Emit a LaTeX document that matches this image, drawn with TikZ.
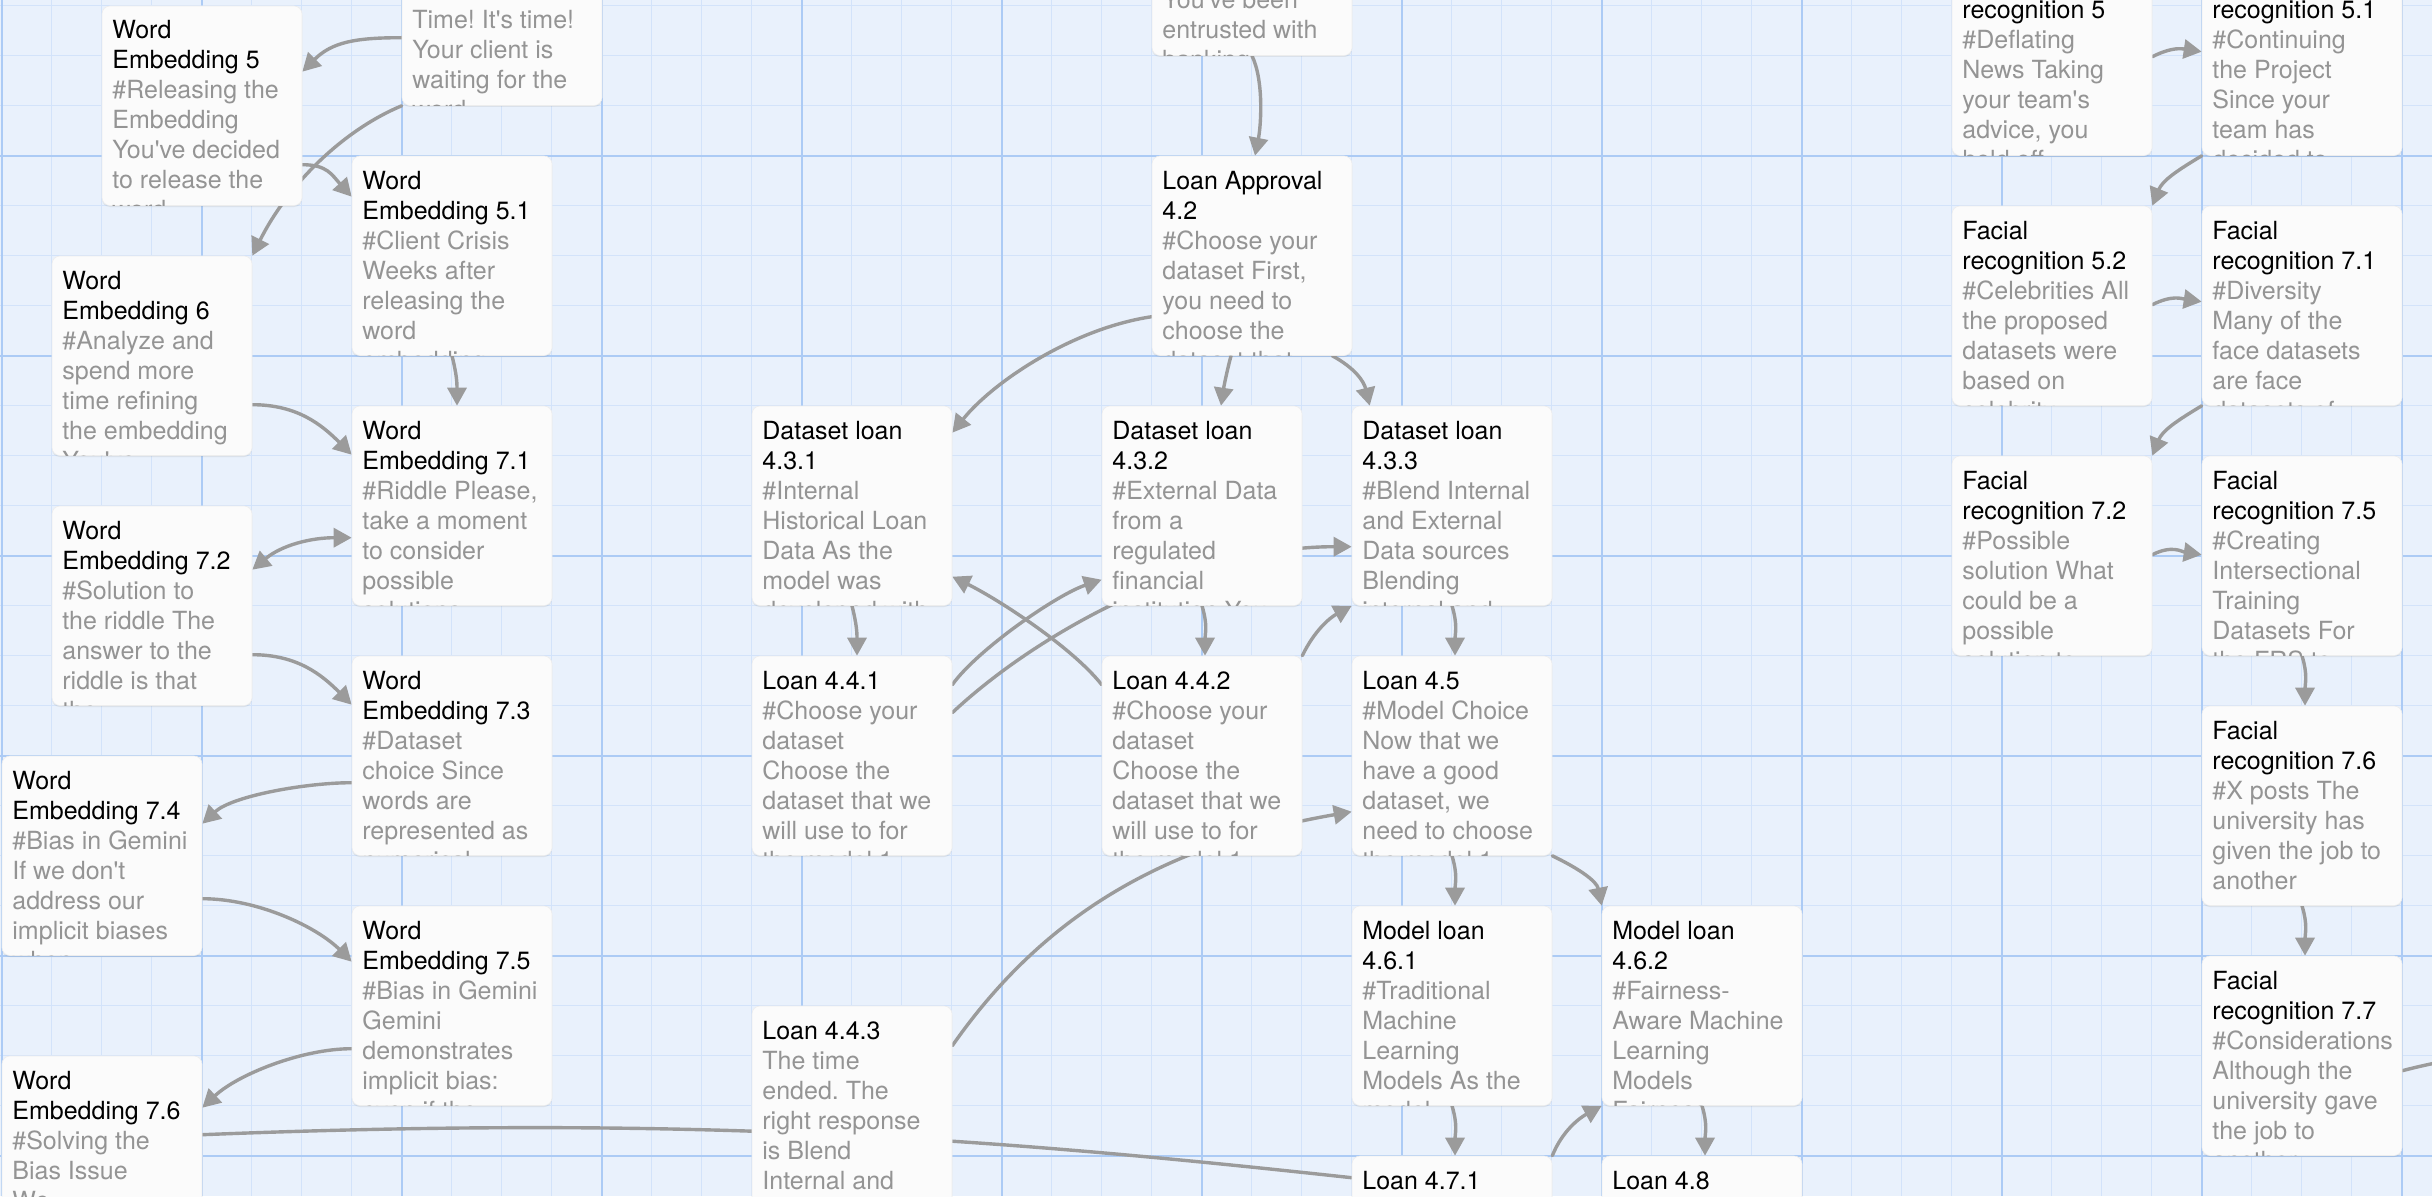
\documentclass[tikz,border=0pt]{standalone}
\usepackage{fontspec}
\newfontfamily\cardfont{TeX Gyre Heros}
\usetikzlibrary{arrows.meta,calc,shadows}
\frenchspacing

\definecolor{canvasbg}{RGB}{233,241,252}
\definecolor{gridminorcol}{RGB}{211,227,250}
\definecolor{gridmajorcol}{RGB}{172,203,245}
\definecolor{cardfill}{RGB}{251,251,251}
\definecolor{titlecol}{RGB}{0,0,0}
\definecolor{bodycol}{RGB}{148,148,148}
\definecolor{linkcol}{RGB}{155,155,155}

\pgfdeclarelayer{grid}
\pgfdeclarelayer{links}
\pgfsetlayers{grid,links,main}

\tikzset{
  cardbox/.style={rectangle, rounded corners=8pt, fill=cardfill, draw=black!7,
    line width=0.6pt, minimum width=200pt, minimum height=199.5pt, inner sep=0pt,
    drop shadow={shadow xshift=0pt, shadow yshift=-1.5pt, opacity=0.14}},
  cardtext/.style={inner sep=0pt, font=\cardfont\fontsize{25}{30}\selectfont},
  link/.style={draw=linkcol, line width=3.4pt, line cap=round, ->},
  linkboth/.style={link, <->},
  linkplain/.style={draw=linkcol, line width=3.4pt, line cap=round},
  minorline/.style={draw=gridminorcol, line width=1.5pt},
  majorline/.style={draw=gridmajorcol, line width=2pt}
}

% card: name, left x, top y, title lines, body lines (text clipped to the card)
\newcommand\canvascard[5]{%
  \node[cardbox] (#1) at (#2+100,#3+99.75) {};
  \begin{scope}
    \clip[rounded corners=8pt] (#1.north west) rectangle (#1.south east);
    \node[cardtext, anchor=base west] (#1-text) at ($(#1.north west)+(10.5,33.3)$)
      {\parbox[t]{400pt}{\fontsize{25}{30}\selectfont\raggedright\frenchspacing
        \leavevmode\color{titlecol}#4\\\color{bodycol}#5}};
  \end{scope}}

\begin{document}
\begin{tikzpicture}[x=1pt,y=-1pt,>={Triangle[length=18pt,width=19pt]}]
\useasboundingbox (0,0) rectangle (2432,1196);

% canvas grid
\begin{pgfonlayer}{grid}
  \fill[canvasbg] (0,0) rectangle (2432,1196);
  \foreach \gx in {1.5,51.5,...,2431.5} \draw[minorline] (\gx,0) -- (\gx,1196);
  \foreach \gy in {5.5,55.5,...,1195.5} \draw[minorline] (0,\gy) -- (2432,\gy);
  \foreach \gx in {1.5,201.5,...,2401.5} \draw[majorline] (\gx,0) -- (\gx,1196);
  \foreach \gy in {155.5,355.5,...,1155.5} \draw[majorline] (0,\gy) -- (2432,\gy);
\end{pgfonlayer}

% word embedding branch
\canvascard{time}{402}{-94}{\mbox{}\\\mbox{}}{\mbox{}\\Time! It's time!\\Your client is\\waiting for the\\word}
\canvascard{we5}{102}{6}{Word\\Embedding 5}{\#Releasing the\\Embedding\\You've decided\\to release the\\word}
\canvascard{we51}{352}{156}{Word\\Embedding 5.1}{\#Client Crisis\\Weeks after\\releasing the\\word\\embedding}
\canvascard{we6}{52}{256}{Word\\Embedding 6}{\#Analyze and\\spend more\\time refining\\the embedding\\You've}
\canvascard{we71}{352}{406}{Word\\Embedding 7.1}{\#Riddle Please,\\take a moment\\to consider\\possible\\solutions}
\canvascard{we72}{52}{506}{Word\\Embedding 7.2}{\#Solution to\\the riddle The\\answer to the\\riddle is that\\the}
\canvascard{we73}{352}{656}{Word\\Embedding 7.3}{\#Dataset\\choice Since\\words are\\represented as\\numerical}
\canvascard{we74}{2}{756}{Word\\Embedding 7.4}{\#Bias in Gemini\\If we don't\\address our\\implicit biases\\when}
\canvascard{we75}{352}{906}{Word\\Embedding 7.5}{\#Bias in Gemini\\Gemini\\demonstrates\\implicit bias:\\even if the}
\canvascard{we76}{2}{1056}{Word\\Embedding 7.6}{\#Solving the\\Bias Issue\\We}

% loan branch
\canvascard{trust}{1152}{-144}{\mbox{}\\\mbox{}}{\mbox{}\\\mbox{}\\You've been\\entrusted with\\banking}
\canvascard{la42}{1152}{156}{Loan Approval\\4.2}{\#Choose your\\dataset First,\\you need to\\choose the\\dataset that}
\canvascard{ds431}{752}{406}{Dataset loan\\4.3.1}{\#Internal\\Historical Loan\\Data As the\\model was\\developed with}
\canvascard{ds432}{1102}{406}{Dataset loan\\4.3.2}{\#External Data\\from a\\regulated\\financial\\institution You}
\canvascard{ds433}{1352}{406}{Dataset loan\\4.3.3}{\#Blend Internal\\and External\\Data sources\\Blending\\internal and}
\canvascard{l441}{752}{656}{Loan 4.4.1}{\#Choose your\\dataset\\Choose the\\dataset that we\\will use to for\\the model 1}
\canvascard{l442}{1102}{656}{Loan 4.4.2}{\#Choose your\\dataset\\Choose the\\dataset that we\\will use to for\\the model 1}
\canvascard{l45}{1352}{656}{Loan 4.5}{\#Model Choice\\Now that we\\have a good\\dataset, we\\need to choose\\the model 1}
\canvascard{l443}{752}{1006}{Loan 4.4.3}{The time\\ended. The\\right response\\is Blend\\Internal and}
\canvascard{ml461}{1352}{906}{Model loan\\4.6.1}{\#Traditional\\Machine\\Learning\\Models As the\\model}
\canvascard{ml462}{1602}{906}{Model loan\\4.6.2}{\#Fairness-\\Aware Machine\\Learning\\Models\\Fairness}
\canvascard{l471}{1352}{1156}{Loan 4.7.1}{\mbox{}}
\canvascard{l48}{1602}{1156}{Loan 4.8}{\mbox{}}

% facial recognition branch
\canvascard{fr5}{1952}{-44}{\mbox{}\\recognition 5}{\#Deflating\\News Taking\\your team's\\advice, you\\hold off}
\canvascard{fr51}{2202}{-44}{\mbox{}\\recognition 5.1}{\#Continuing\\the Project\\Since your\\team has\\decided to}
\canvascard{fr52}{1952}{206}{Facial\\recognition 5.2}{\#Celebrities All\\the proposed\\datasets were\\based on\\celebrity}
\canvascard{fr71}{2202}{206}{Facial\\recognition 7.1}{\#Diversity\\Many of the\\face datasets\\are face\\datasets of}
\canvascard{fr72}{1952}{456}{Facial\\recognition 7.2}{\#Possible\\solution What\\could be a\\possible\\solution to}
\canvascard{fr75}{2202}{456}{Facial\\recognition 7.5}{\#Creating\\Intersectional\\Training\\Datasets For\\the FRS to}
\canvascard{fr76}{2202}{706}{Facial\\recognition 7.6}{\#X posts The\\university has\\given the job to\\another\\\mbox{}}
\canvascard{fr77}{2202}{956}{Facial\\recognition 7.7}{\#Considerations\\Although the\\university gave\\the job to\\another}

\coordinate (offright) at (2445,1061);

% connectors, drawn beneath the cards
\begin{pgfonlayer}{links}
  % word embedding
  \draw[link] ($(time.north west)+(0,132)$) .. controls +(-45,0) and +(30,-30) .. ($(we5.north east)+(0,66)$);
  \draw[link] (time.south west) .. controls +(-60,25) and +(35,-70) .. (we6.north east);
  \draw[link] ($(we5.north east)+(0,159)$) .. controls +(25,0) and +(-20,-22) .. ($(we51.north west)+(0,41)$);
  \draw[link] (we51.south) .. controls +(5,20) and +(0,-22) .. ($(we71.north)+(5,0)$);
  \draw[link] ($(we6.north east)+(0,149)$) .. controls +(45,0) and +(-30,-30) .. ($(we71.north west)+(0,49)$);
  \draw[linkboth] ($(we72.north east)+(0,64)$) .. controls +(30,-25) and +(-40,0) .. ($(we71.north west)+(0,132)$);
  \draw[link] ($(we72.north east)+(0,149)$) .. controls +(45,0) and +(-30,-30) .. ($(we73.north west)+(0,49)$);
  \draw[link] ($(we73.north west)+(0,127)$) .. controls +(-45,0) and +(30,-28) .. ($(we74.north east)+(0,68)$);
  \draw[link] ($(we74.north east)+(0,143)$) .. controls +(55,0) and +(-35,-35) .. ($(we75.north west)+(0,56)$);
  \draw[link] ($(we75.north west)+(0,143)$) .. controls +(-50,0) and +(35,-33) .. ($(we76.north east)+(0,52)$);
  \draw[linkplain] ($(we76.north east)+(0,79)$) .. controls +(500,-20) and +(-350,-38) .. ($(l471.north west)+(0,22)$);
  % loan
  \draw[link] (trust.south) .. controls +(12,25) and +(6,-30) .. ($(la42.north)+(3,0)$);
  \draw[link] ($(la42.north west)+(0,161)$) .. controls +(-80,12) and +(40,-50) .. ($(ds431.north east)+(0,27)$);
  \draw[link] ($(la42.south)+(-21,0)$) .. controls +(-4,15) and +(3,-20) .. ($(ds432.north)+(19,0)$);
  \draw[link] ($(la42.south east)+(-20,0)$) .. controls +(22,12) and +(-6,-25) .. ($(ds433.north west)+(18,0)$);
  \draw[link] (ds431.south) .. controls +(5,20) and +(0,-22) .. ($(l441.north)+(5,0)$);
  \draw[link] ($(l441.north east)+(0,29)$) .. controls +(25,-35) and +(-45,15) .. ($(ds432.north west)+(0,174)$);
  \draw[link] ($(l441.north east)+(0,57)$) .. controls +(83,-78) and +(-160,0) .. ($(ds433.north west)+(0,141)$);
  \draw[link] (ds432.south) .. controls +(6,20) and +(0,-22) .. ($(l442.north)+(3,0)$);
  \draw[link] ($(l442.north west)+(0,29)$) .. controls +(-30,-38) and +(45,22) .. ($(ds431.north east)+(0,171)$);
  \draw[link] ($(l443.north east)+(0,40)$) .. controls +(86,-123) and +(-197,34) .. ($(l45.north west)+(0,156)$);
  \draw[link] (l442.north east) .. controls +(12,-25) and +(-22,12) .. (ds433.south west);
  \draw[link] (ds433.south) .. controls +(6,20) and +(0,-22) .. ($(l45.north)+(3,0)$);
  \draw[link] (l45.south) .. controls +(6,20) and +(0,-22) .. ($(ml461.north)+(3,0)$);
  \draw[link] (l45.south east) .. controls +(25,12) and +(-5,-25) .. (ml462.north west);
  \draw[link] (ml461.south) .. controls +(6,20) and +(0,-22) .. ($(l471.north)+(3,0)$);
  \draw[link] (l471.north east) .. controls +(10,-25) and +(-22,12) .. (ml462.south west);
  \draw[link] (ml462.south) .. controls +(6,20) and +(0,-22) .. ($(l48.north)+(3,0)$);
  % facial recognition
  \draw[link] ($(fr5.north east)+(0,101)$) .. controls +(20,-10) and +(-20,-3) .. ($(fr51.north west)+(0,96)$);
  \draw[link] (fr51.south west) .. controls +(-25,15) and +(10,-25) .. (fr52.north east);
  \draw[link] ($(fr52.north east)+(0,99)$) .. controls +(20,-10) and +(-20,-3) .. ($(fr71.north west)+(0,96)$);
  \draw[link] (fr71.south west) .. controls +(-25,15) and +(10,-25) .. (fr72.north east);
  \draw[link] ($(fr72.north east)+(0,99)$) .. controls +(20,-10) and +(-20,-3) .. ($(fr75.north west)+(0,99)$);
  \draw[link] (fr75.south) .. controls +(6,20) and +(0,-22) .. ($(fr76.north)+(3,0)$);
  \draw[link] (fr76.south) .. controls +(6,20) and +(0,-22) .. ($(fr77.north)+(3,0)$);
  \draw[linkplain] ($(fr77.north east)+(0,115)$) .. controls +(15,-4) and +(-10,2) .. (offright);
\end{pgfonlayer}
\end{tikzpicture}
\end{document}
